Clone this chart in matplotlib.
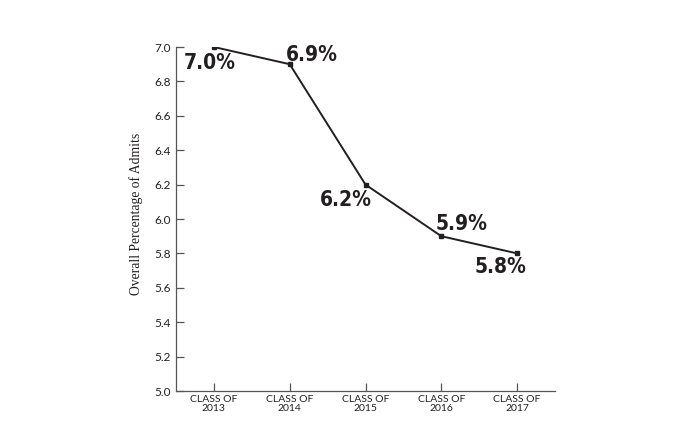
import matplotlib
matplotlib.use('Agg')
import matplotlib.pyplot as plt

classes = ['CLASS OF\n2013', 'CLASS OF\n2014', 'CLASS OF\n2015', 'CLASS OF\n2016', 'CLASS OF\n2017']
rates = [7.0, 6.9, 6.2, 5.9, 5.8]
labels = ['7.0%', '6.9%', '6.2%', '5.9%', '5.8%']
# label offsets in pixels from each point
offsets = [(-4, -16), (22, 9), (-20, -15), (20, 12), (-17, -14)]
yticks = [5.0, 5.2, 5.4, 5.6, 5.8, 6.0, 6.2, 6.4, 6.6, 6.8, 7.0]

fig = plt.figure(figsize=(6.73, 4.36), dpi=100)
ax = fig.add_axes([0.2615, 0.1032, 0.5632, 0.789])

x = list(range(len(classes)))
ax.plot(x, rates, color='#231f20', lw=1.4, marker='s', ms=2.5)

for xi, yi, lab, off in zip(x, rates, labels, offsets):
    ax.annotate(lab, (xi, yi), xytext=off, textcoords='offset pixels',
                ha='center', va='center', fontsize=15, fontweight='bold',
                family='DejaVu Sans', stretch='condensed', color='#231f20')

ax.set_xlim(-0.5, 4.5)
ax.set_ylim(5.0, 7.0)
ax.set_yticks(yticks)
ax.set_yticklabels([f'{v:.1f}' for v in yticks], family='Lato', fontsize=8.5, color='#231f20')
ax.set_xticks(x)
ax.set_xticklabels(classes, family='Lato', fontsize=7.5, color='#231f20', linespacing=1.0)

ax.spines['top'].set_visible(False)
ax.spines['right'].set_visible(False)
for s in ['left', 'bottom']:
    ax.spines[s].set_color('#555555')
    ax.spines[s].set_linewidth(0.9)
ax.tick_params(axis='y', direction='in', length=5.5, width=0.9, color='#555555', pad=3.5)
ax.tick_params(axis='x', direction='in', length=6, width=0.9, color='#555555', pad=3)

ax.set_ylabel('Overall Percentage of Admits', family='Liberation Serif', fontsize=9.8,
              color='#231f20')
ax.yaxis.set_label_coords(-0.088, 0.515)

fig.savefig('out.png', dpi=100)
